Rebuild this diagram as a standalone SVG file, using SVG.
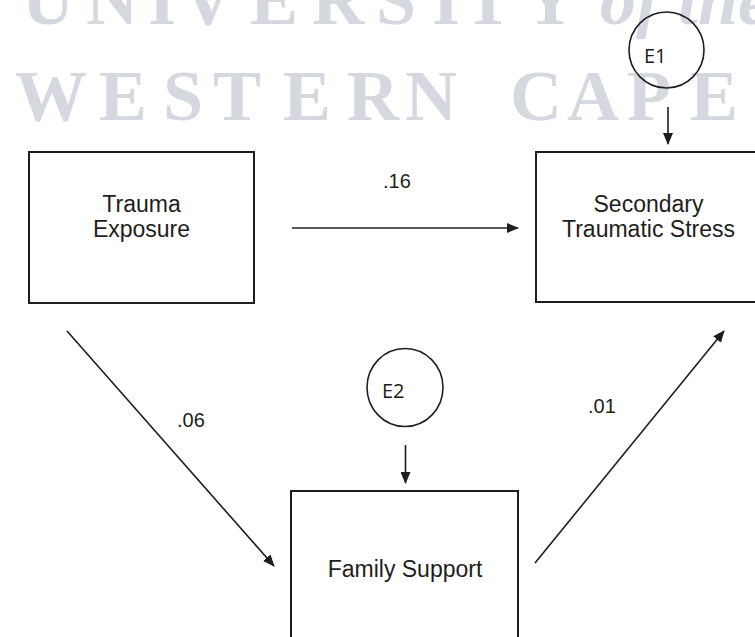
<svg xmlns="http://www.w3.org/2000/svg" width="755" height="637" viewBox="0 0 755 637">
  <style>
    .box { fill: #ffffff; stroke: #1e1e1e; stroke-width: 2; }
    .err { fill: none; stroke: #1e1e1e; stroke-width: 1.6; }
    .lbl { font-family: "Liberation Sans", Arial, sans-serif; font-size: 23px; fill: #1e1e1e; text-anchor: middle; }
    .coef { font-family: "Liberation Sans", Arial, sans-serif; font-size: 20px; fill: #1e1e1e; }
    .etxt { font-family: "Open Sans", "Liberation Sans", sans-serif; font-size: 20px; fill: #1a1a1a; }
    .wm { font-family: "Liberation Serif", "Times New Roman", serif; font-weight: bold; font-size: 72px; fill: #d6d8e0; }
    .conn { stroke: #1e1e1e; stroke-width: 1.6; fill: none; marker-end: url(#head); }
  </style>
  <defs>
    <marker id="head" markerUnits="userSpaceOnUse" markerWidth="12" markerHeight="10" refX="11" refY="5" orient="auto">
      <path d="M0,0 L12,5 L0,10 z" fill="#1e1e1e"/>
    </marker>
  </defs>

  <rect width="755" height="637" fill="#ffffff"/>

  <!-- background watermark -->
  <g id="watermark">
    <text class="wm" y="24" x="22 86 148 182 250 312 376 432 464 524">UNIVERSITY</text>
    <text class="wm" y="24" x="600" font-style="italic" font-weight="normal">of the</text>
    <text class="wm" y="120" x="15 99 163 213 283 347 405">WESTERN</text>
    <text class="wm" y="120" x="510 567 627 690">CAPE</text>
  </g>

  <!-- paths -->
  <g id="connectors">
    <line class="conn" x1="292" y1="228" x2="518" y2="228"/>
    <line class="conn" x1="67" y1="331" x2="274" y2="566"/>
    <line class="conn" x1="535" y1="563" x2="724" y2="331"/>
    <line class="conn" x1="668" y1="107" x2="668" y2="144"/>
    <line class="conn" x1="405.5" y1="445" x2="405.5" y2="483"/>
    <text class="coef" x="383" y="188">.16</text>
    <text class="coef" x="177" y="427">.06</text>
    <text class="coef" x="588" y="413">.01</text>
  </g>

  <g id="trauma-exposure">
    <rect class="box" x="29" y="152" width="225" height="151"/>
    <text class="lbl" x="141.5" y="212">Trauma</text>
    <text class="lbl" x="141.5" y="237">Exposure</text>
  </g>

  <g id="secondary-traumatic-stress">
    <rect class="box" x="536" y="152" width="225" height="150"/>
    <text class="lbl" x="648.5" y="212">Secondary</text>
    <text class="lbl" x="648.5" y="237">Traumatic Stress</text>
  </g>

  <g id="family-support">
    <rect class="box" x="291" y="491" width="227" height="160"/>
    <text class="lbl" x="405" y="577">Family Support</text>
  </g>

  <g id="e1">
    <ellipse class="err" cx="666.5" cy="50" rx="37.5" ry="38"/>
    <text class="etxt" x="644" y="63">E1</text>
  </g>

  <g id="e2">
    <ellipse class="err" cx="405" cy="387.5" rx="38" ry="39"/>
    <text class="etxt" x="382" y="398">E2</text>
  </g>
</svg>
